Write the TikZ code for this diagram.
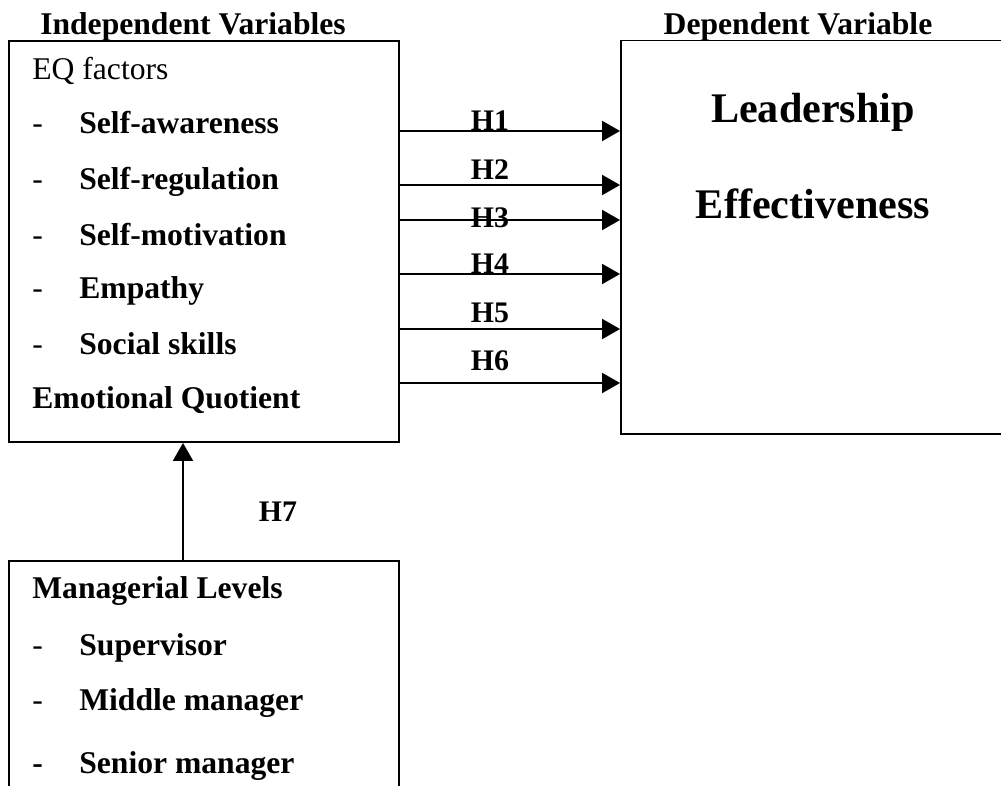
\documentclass[tikz,border=0pt]{standalone}
\usepackage{fontspec}
\setmainfont{Liberation Serif}
\usetikzlibrary{arrows.meta}

\newcommand{\itemdash}[1][\mdseries]{\makebox[0.94cm][l]{#1-}}

\begin{document}
\begin{tikzpicture}[
    x=0.02cm,
    y=-0.02cm,
    >={Triangle[length=0.36cm,width=0.4cm]},
    block/.style={
      rectangle,
      draw=black,
      line width=1.1pt,
      minimum width=7.8cm,
      inner sep=0pt
    },
    txt/.style={
      inner sep=0pt,
      anchor=base west,
      font=\fontsize{18}{22}\selectfont\bfseries
    },
    head/.style={
      inner sep=0pt,
      anchor=base,
      font=\fontsize{18}{22}\selectfont\bfseries
    },
    hyp/.style={
      inner sep=0pt,
      anchor=base,
      font=\fontsize{17}{20}\selectfont\bfseries
    },
    conn/.style={->, line width=1.1pt}]

    \useasboundingbox (0,0) rectangle (1001,785);

    % independent variables box
    \draw (204,241.5) node[block, minimum height=8.02cm] (iv) {};
    \node[head] (ivt) at (193,34) {Independent Variables};
    \node[txt, font=\fontsize{18}{22}\selectfont] (eq) at (32,79) {EQ factors};
    \node[txt] (sa) at (32,133) {\itemdash Self-awareness};
    \node[txt] (sr) at (32,189) {\itemdash Self-regulation};
    \node[txt] (sm) at (32,245) {\itemdash Self-motivation};
    \node[txt] (em) at (32,298) {\itemdash Empathy};
    \node[txt] (ss) at (32,354) {\itemdash Social skills};
    \node[txt] (eqt) at (32,408) {Emotional Quotient};

    % dependent variable box
    \draw (821,237.2) node[block, minimum width=8cm, minimum height=7.87cm] (dv) {};
    \node[head] (dvt) at (798,34) {Dependent Variable};
    \node[head, font=\fontsize{24}{28}\selectfont\bfseries] (le) at (813,122) {Leadership};
    \node[head, font=\fontsize{24}{28}\selectfont\bfseries] (ef) at (813,218) {Effectiveness};

    % managerial levels box
    \draw (204,711) node[block, minimum height=6cm] (ml) {};
    \node[txt] (mlt) at (32,598) {Managerial Levels};
    \node[txt] (sup) at (32,655) {\itemdash Supervisor};
    \node[txt] (mid) at (32,710) {\itemdash Middle manager};
    \node[txt] (sen) at (32,773) {\itemdash[\bfseries]Senior manager};

    % hypotheses
    \coordinate (a1) at (398,131);
    \coordinate (a2) at (398,185);
    \coordinate (a3) at (398,220);
    \coordinate (a4) at (398,274);
    \coordinate (a5) at (398,329);
    \coordinate (a6) at (398,383);
    \coordinate (a7) at (183,561);
    \draw[conn] (a1) -- (a1 -| dv.west);
    \draw[conn] (a2) -- (a2 -| dv.west);
    \draw[conn] (a3) -- (a3 -| dv.west);
    \draw[conn] (a4) -- (a4 -| dv.west);
    \draw[conn] (a5) -- (a5 -| dv.west);
    \draw[conn] (a6) -- (a6 -| dv.west);
    \draw[conn] (a7) -- (a7 |- iv.south);
    \node[hyp] (h1) at (490,130) {H1};
    \node[hyp] (h2) at (490,179) {H2};
    \node[hyp] (h3) at (490,227) {H3};
    \node[hyp] (h4) at (490,273) {H4};
    \node[hyp] (h5) at (490,322) {H5};
    \node[hyp] (h6) at (490,370) {H6};
    \node[hyp] (h7) at (278,521) {H7};
  \end{tikzpicture}
\end{document}
